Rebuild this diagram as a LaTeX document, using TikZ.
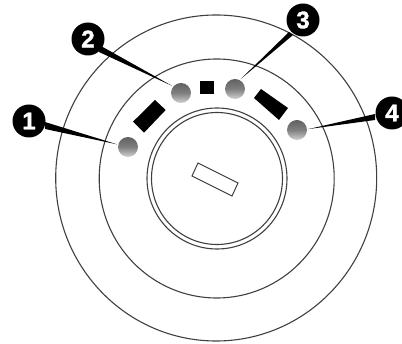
\documentclass[tikz,border=0pt]{standalone}
\usepackage{fontspec}
\usetikzlibrary{calc,shapes.geometric}
\setmainfont[BoldFeatures={FakeBold=1.6}]{Liberation Sans}
\definecolor{ln}{gray}{0.25}
\tikzset{
  ring/.style 2 args={draw=ln,line width=1.1pt,ellipse,minimum width=#1,minimum height=#2,inner sep=0pt,outer sep=0pt},
  badge/.style={circle,fill=black,minimum size=33pt,inner sep=0pt,text=white,font=\bfseries\fontsize{24}{24}\selectfont},
  lamp/.style={circle,minimum size=20pt,inner sep=0pt,top color=black!62,bottom color=black!18,middle color=black!50},
  bar/.style={fill=black,draw=none},
  lead/.style={fill=black,draw=none}
}
\begin{document}
\begin{tikzpicture}[x=1pt,y=-1pt]
\useasboundingbox (0,0) rectangle (402,344);
\clip (0,0) rectangle (402,344);
\node[ring={321pt}{326pt}] (outer) at (216.2,178) {};
\node[ring={235pt}{239pt}] (middle) at (216.7,178.5) {};
\node[ring={140pt}{141pt}] (capo) at (217,178.5) {};
\node[ring={131pt}{132pt}] (capi) at (217,178.5) {};
\draw[ln,line width=1pt] (198,163) -- (238,183) -- (232,196) -- (192,176) -- cycle;
\fill[bar] (155,100) -- (165.7,110) -- (144,132.7) -- (133,121.7) -- cycle;
\fill[bar] (200,81) -- (214,81) -- (214,94) -- (200,94) -- cycle;
\fill[bar] (261,89) -- (288,108) -- (279,120) -- (254,98) -- cycle;
\node[lamp] (l1) at (128,147) {};
\node[lamp] (l2) at (181,93) {};
\node[lamp] (l3) at (235,89) {};
\node[lamp] (l4) at (297,130) {};
\node[badge] (b1) at (29,121) {1};
\node[badge] (b2) at (88,39) {2};
\node[badge] (b3) at (303,20) {3};
\node[badge] (b4) at (392,113) {4};
\fill[lead] ($(b1.center)+(16,1)$) -- ($(b1.center)+(16,8)$) -- ($(l1.165)+(-1,0)$) -- cycle;
\fill[lead] ($(b2.center)+(13,7)$) -- ($(b2.center)+(11,13)$) -- ($(l2.140)+(-1,-0.5)$) -- cycle;
\fill[lead] ($(b3.center)+(-14,12)$) -- ($(b3.center)+(-10,15)$) -- ($(l3.60)+(0.5,-1)$) -- cycle;
\fill[lead] ($(b4.center)+(-17,1)$) -- ($(b4.center)+(-17,7)$) -- ($(l4.5)+(1,0)$) -- cycle;
\end{tikzpicture}
\end{document}
